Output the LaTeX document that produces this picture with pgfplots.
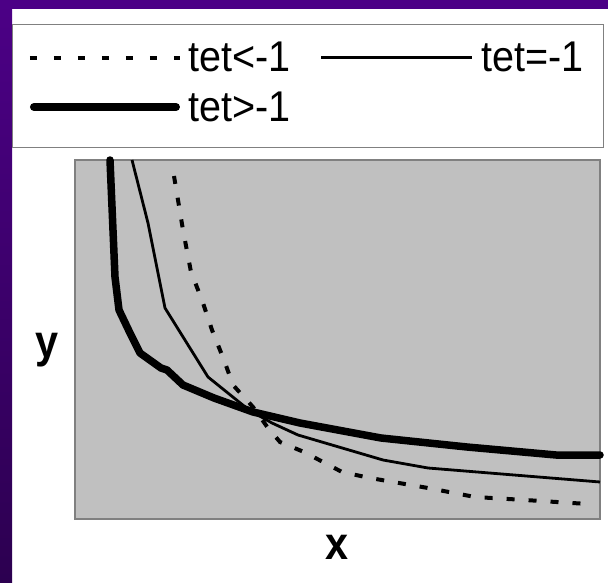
\documentclass[border=0pt]{standalone}
\usepackage{fontspec}
\setmainfont{Liberation Sans}
\newfontfamily\cond[FakeStretch=0.92]{Liberation Sans}
\newfontfamily\condb[FakeStretch=0.9]{Liberation Sans}
\usepackage{pgfplots}
\pgfplotsset{compat=1.18}
\definecolor{purpTop}{RGB}{76,0,134}
\definecolor{purpBot}{RGB}{44,0,80}
\definecolor{plotgray}{RGB}{192,192,192}
\definecolor{bordergray}{RGB}{128,128,128}
\begin{document}
\begin{tikzpicture}
\useasboundingbox (0,0) rectangle (608pt,-583pt);
\fill[white] (0,0) rectangle (608pt,-583pt);
\shade[top color=purpTop, bottom color=purpBot] (0,0) rectangle (12pt,-583pt);
\fill[purpTop] (0,0) rectangle (608pt,-9pt);
\draw[bordergray, line width=1pt] (12.5pt,-25pt) rectangle (603pt,-148pt);
\begin{axis}[
  at={(75pt,-519pt)}, anchor=south west,
  width=525pt, height=359pt, scale only axis,
  xmin=0, xmax=525, ymin=0, ymax=359,
  xtick=\empty, ytick=\empty,
  axis background/.style={fill=plotgray},
  axis line style={bordergray, line width=2.5pt},
  clip=false,
  xlabel={x}, ylabel={y},
  label style={font=\condb\bfseries\fontsize{46}{50}\selectfont},
  xlabel style={at={(axis description cs:0.5,-0.08)}, anchor=center},
  ylabel style={at={(axis description cs:-0.053,0.47)}, anchor=center, rotate=-90},
  legend columns=2,
  legend style={draw=none, fill=none, at={(axis description cs:-0.0952,1.216)}, anchor=west,
    font=\cond\fontsize{43}{47}\selectfont, column sep=0pt, row sep=12pt,
    nodes={inner sep=3pt, anchor=west}},
  legend cell align=left,
]
\addplot[black, line width=4pt, dash pattern=on 8pt off 14pt,
  legend image code/.code={\draw[black, line width=3.5pt, dash pattern=on 7pt off 17pt] (0pt,0pt) -- (150pt,0pt); \path (152pt,0pt);}]
  coordinates {(99,343) (108,289) (116,247) (127,219) (137,189) (149,159) (158,134) (178,112) (193,91) (205,77) (229,67) (267,47) (295,41) (353,31) (400,22) (450,19) (513,15)};
\addlegendentry{\makebox[128pt][l]{tet<-1}}
\addplot[black, line width=2.8pt,
  legend image code/.code={\draw[black, line width=3pt] (0pt,0pt) -- (151pt,0pt); \path (156pt,0pt);}]
  coordinates {(57,359) (73,296) (90,211) (133,142) (174,109) (197,96) (223,84) (308,59) (353,51) (525,37)};
\addlegendentry{tet=-1}
\addplot[black, line width=7.5pt, line cap=round, line join=round,
  legend image code/.code={\draw[black, line width=8pt, line cap=round] (4pt,0pt) -- (146pt,0pt); \path (152pt,0pt);}]
  coordinates {(35,359) (40,242) (44,209) (55,186) (65,166) (86,151) (92,149) (108,134) (139,121) (178,107) (225,96) (306,81) (392,72) (481,64) (525,64)};
\addlegendentry{tet>-1}
\end{axis}
\end{tikzpicture}
\end{document}
